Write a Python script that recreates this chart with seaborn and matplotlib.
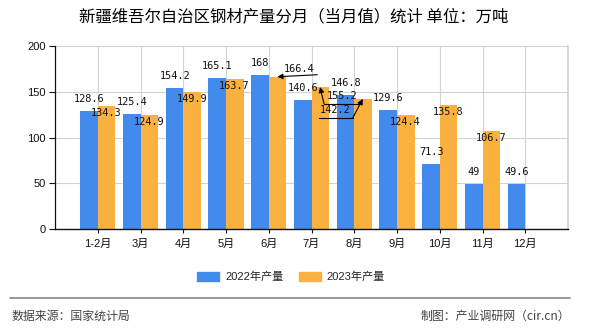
import matplotlib
matplotlib.use("Agg")
import matplotlib.pyplot as plt
import seaborn as sns
import pandas as pd
import numpy as np
from matplotlib.patches import Patch

months = ["1-2月", "3月", "4月", "5月", "6月", "7月", "8月", "9月", "10月", "11月", "12月"]
prod_2022 = [128.6, 125.4, 154.2, 165.1, 168, 140.6, 146.8, 129.6, 71.3, 49, 49.6]
prod_2023 = [134.3, 124.9, 149.9, 163.7, 166.4, 155.2, 142.2, 124.4, 135.8, 106.7, np.nan]
series_names = ["2022年产量", "2023年产量"]
y_ticks = [0, 50, 100, 150, 200]

title = "新疆维吾尔自治区钢材产量分月（当月值）统计 单位：万吨"
source = "数据来源：国家统计局"
maker = "制图：产业调研网（cir.cn）"

sns.set_theme(style="white")
plt.rcParams["font.family"] = ["Noto Sans CJK SC", "DejaVu Sans"]
TICK_FAM = ["Liberation Sans", "Noto Sans CJK SC"]

BLUE = "#428BEC"
ORANGE = "#FBB13F"

df = pd.DataFrame({
    "month": months * 2,
    "value": prod_2022 + prod_2023,
    "series": [series_names[0]] * len(months) + [series_names[1]] * len(months),
})

fig = plt.figure(figsize=(5.9, 3.3), dpi=100)
ax = fig.add_axes([55 / 590, 101 / 330, 513 / 590, 183 / 330])

sns.barplot(data=df, x="month", y="value", hue="series", order=months,
            hue_order=series_names, palette=[BLUE, ORANGE], width=0.82,
            saturation=1, ax=ax, legend=False, zorder=2, linewidth=0,
            edgecolor="none")

ax.set_xlim(-1, len(months))
ax.set_ylim(0, 200)
ax.set_yticks(y_ticks)
ax.set_xlabel("")
ax.set_ylabel("")
ax.grid(True, axis="both", color="#D3D3D3", linewidth=0.8, zorder=0)
ax.set_axisbelow(True)
ax.spines["top"].set_visible(False)
ax.spines["right"].set_color("#D3D3D3")
ax.spines["left"].set_color("#111111")
ax.spines["bottom"].set_color("#111111")
ax.spines["left"].set_linewidth(0.9)
ax.spines["bottom"].set_linewidth(1.0)
ax.tick_params(axis="y", direction="out", left=True, length=4.5, width=0.8,
               color="#111111", pad=2)
ax.tick_params(axis="x", direction="out", bottom=True, length=3, width=0.8,
               color="#111111", pad=4)
for lab in ax.get_yticklabels() + ax.get_xticklabels():
    lab.set_family(TICK_FAM)
    lab.set_fontsize(8)
    lab.set_color("#111111")

label_font = dict(family="DejaVu Sans Mono", fontsize=7.4, color="#111111")
arrow_kw = dict(arrowstyle="-|>", color="black", lw=0.8, shrinkA=0, shrinkB=0,
                mutation_scale=8)

# callout layouts in pixel offsets: (text offset, line start A, line end B)
callouts = {
    4: ((22, 8), (0, 0), (40, 2)),
    5: ((22, -9), (4, -17), (41, -17)),
    6: ((-28, -11), (-10, -19), (-44, -19)),
}

xs = np.arange(len(months))
for i, v in enumerate(prod_2022):
    ax.annotate(f"{v:g}", (xs[i] - 0.2, v), xytext=(0, 12), textcoords="offset pixels",
                ha="center", va="center", **label_font)
for i, v in enumerate(prod_2023):
    if np.isnan(v):
        continue
    top = (xs[i] + 0.2, v)
    if i in callouts:
        t, a, b = callouts[i]
        ax.annotate(f"{v:g}", top, xytext=t, textcoords="offset pixels",
                    ha="center", va="center", **label_font)
        if a == (0, 0):
            ax.annotate("", top, xytext=b, textcoords="offset pixels", arrowprops=arrow_kw)
        else:
            ax.annotate("", top, xytext=a, textcoords="offset pixels", arrowprops=arrow_kw)
            p0 = ax.transData.transform(top)
            p_a = p0 + np.array(a)
            p_b = p0 + np.array(b)
            fig.add_artist(plt.Line2D([p_a[0] / fig.bbox.width, p_b[0] / fig.bbox.width],
                                      [p_a[1] / fig.bbox.height, p_b[1] / fig.bbox.height],
                                      color="black", lw=0.8))
    else:
        ax.annotate(f"{v:g}", top, xytext=(0, -7), textcoords="offset pixels",
                    ha="center", va="center", **label_font)

fig.text(294 / 590, 1 - 17 / 330, title, ha="center", va="center", fontsize=11.8,
         color="#000000", fontweight="medium")

handles = [Patch(color=BLUE), Patch(color=ORANGE)]
fig.legend(handles, series_names, loc="center", bbox_to_anchor=(291 / 590, 1 - 277 / 330),
           ncol=2, frameon=False, prop=dict(family=TICK_FAM, size=8),
           handlelength=2.0, handleheight=0.8, columnspacing=1.4, handletextpad=0.5)

fig.add_artist(plt.Line2D([10 / 590, 570 / 590], [1 - 298 / 330] * 2,
                          color="#888888", lw=1.2))
fig.text(12 / 590, 1 - 316 / 330, source, ha="left", va="center", fontsize=8.6,
         color="#444444")
fig.text(570 / 590, 1 - 316 / 330, maker, ha="right", va="center", fontsize=8.6,
         color="#444444")

fig.savefig("out.png", dpi=100)
